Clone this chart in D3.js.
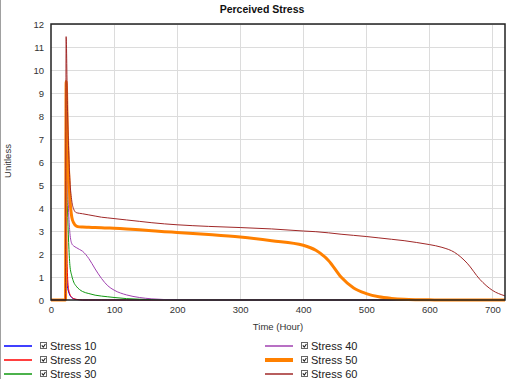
<!DOCTYPE html>
<html>
<head>
<meta charset="utf-8">
<script src="https://cdn.jsdelivr.net/npm/d3@7"></script>
<style>
  body { margin: 0; background: #fff; }
  svg { display: block; font-family: "Liberation Sans", Arial, sans-serif; }
</style>
</head>
<body>
<svg id="chart" width="512" height="379"></svg>
<script>
// time grid (hours) shared by all series
var times = [0, 23, 24, 26, 28, 30, 33, 36, 40, 45, 50, 60, 70, 80, 90, 100, 120, 140, 160, 180, 200,
  250, 300, 350, 400, 420, 440, 460, 480, 500, 520, 540, 560, 580, 600, 620, 640, 660, 680, 700, 720];

var stress10 = [0, 0, 1.8, 0.6, 0.35, 0.2, 0.1, 0.05, 0.02, 0.01, 0, 0, 0, 0, 0, 0, 0, 0, 0, 0, 0,
  0, 0, 0, 0, 0, 0, 0, 0, 0, 0, 0, 0, 0, 0, 0, 0, 0, 0, 0, 0];
var stress20 = [0, 0, 3.5, 1.2, 0.45, 0.25, 0.12, 0.06, 0.03, 0.01, 0, 0, 0, 0, 0, 0, 0, 0, 0, 0, 0,
  0, 0, 0, 0, 0, 0, 0, 0, 0, 0, 0, 0, 0, 0, 0, 0, 0, 0, 0, 0];
var stress30 = [0, 0, 5.8, 4.0, 2.5, 1.5, 1.05, 0.78, 0.6, 0.46, 0.37, 0.28, 0.21, 0.17, 0.14, 0.11, 0.06, 0.035, 0.02, 0.01, 0.005,
  0, 0, 0, 0, 0, 0, 0, 0, 0, 0, 0, 0, 0, 0, 0, 0, 0, 0, 0, 0];
var stress40 = [0, 0, 7.7, 5.5, 3.8, 2.9, 2.45, 2.35, 2.28, 2.2, 2.12, 1.8, 1.35, 0.94, 0.62, 0.43, 0.22, 0.11, 0.05, 0.02, 0.01,
  0, 0, 0, 0, 0, 0, 0, 0, 0, 0, 0, 0, 0, 0, 0, 0, 0, 0, 0, 0];
var stress50 = [0, 0, 9.5, 7.2, 5.5, 4.4, 3.6, 3.35, 3.22, 3.18, 3.17, 3.16, 3.15, 3.14, 3.13, 3.12, 3.09, 3.05, 3.01, 2.97, 2.94,
  2.85, 2.74, 2.58, 2.38, 2.16, 1.72, 1.0, 0.52, 0.28, 0.14, 0.07, 0.03, 0.015, 0.01, 0, 0, 0, 0, 0, 0];
var stress60 = [0, 0, 11.45, 8.5, 6.5, 5.2, 4.3, 3.95, 3.8, 3.77, 3.75, 3.7, 3.65, 3.6, 3.57, 3.54, 3.48, 3.42, 3.36, 3.31, 3.27,
  3.2, 3.15, 3.09, 3.0, 2.97, 2.92, 2.86, 2.81, 2.76, 2.7, 2.64, 2.58, 2.5, 2.41, 2.29, 2.07, 1.6, 0.9, 0.42, 0.18];

var seriesNames = ['Stress 10', 'Stress 20', 'Stress 30', 'Stress 40', 'Stress 50', 'Stress 60'];
var seriesValues = [stress10, stress20, stress30, stress40, stress50, stress60];
var seriesColors = ['#0000ff', '#ff0000', '#119911', '#a040b0', '#ff8000', '#a02828'];
var seriesWidths = [1, 1, 1, 1, 3, 1];

var xTicks = [0, 100, 200, 300, 400, 500, 600, 700];
var yTicks = d3.range(0, 13);

var svg = d3.select('#chart');
var pLeft = 51, pTop = 24, pRight = 505, pBottom = 300;

var x = d3.scaleLinear().domain([0, 720]).range([pLeft, pRight]);
var y = d3.scaleLinear().domain([0, 12]).range([pBottom, pTop]);

// outer frame line at left edge
svg.append('line').attr('x1', 0.5).attr('x2', 0.5).attr('y1', 0).attr('y2', 379)
  .attr('stroke', '#a0a0a0');

svg.append('text').attr('x', 262).attr('y', 13).attr('text-anchor', 'middle')
  .attr('font-size', 10.5).attr('font-weight', 'bold').attr('fill', '#111').text('Perceived Stress');

// grid
var grid = svg.append('g').attr('stroke', '#dcdcdc').attr('stroke-width', 1);
grid.selectAll('line.v').data(xTicks.slice(1)).enter().append('line').attr('class', 'v')
  .attr('x1', function(d) { return Math.round(x(d)) + 0.5; })
  .attr('x2', function(d) { return Math.round(x(d)) + 0.5; })
  .attr('y1', pTop).attr('y2', pBottom);
grid.selectAll('line.h').data(yTicks.slice(1)).enter().append('line').attr('class', 'h')
  .attr('y1', function(d) { return Math.round(y(d)) + 0.5; })
  .attr('y2', function(d) { return Math.round(y(d)) + 0.5; })
  .attr('x1', pLeft).attr('x2', pRight);

// axes (labels only)
var yAxis = svg.append('g').attr('transform', 'translate(' + (pLeft - 1) + ',0)')
  .call(d3.axisLeft(y).tickValues(yTicks).tickSize(0).tickPadding(6));
var xAxis = svg.append('g').attr('transform', 'translate(0,' + (pBottom + 1) + ')')
  .call(d3.axisBottom(x).tickValues(xTicks).tickSize(0).tickPadding(5));
[yAxis, xAxis].forEach(function(a) {
  a.select('.domain').remove();
  a.selectAll('text').attr('font-size', 9.5).attr('fill', '#333')
    .attr('font-family', '"Liberation Sans", Arial, sans-serif');
});

svg.append('text').attr('x', 278).attr('y', 330).attr('text-anchor', 'middle')
  .attr('font-size', 9.5).attr('fill', '#333').text('Time (Hour)');
svg.append('text').attr('transform', 'translate(11,' + 161 + ')rotate(-90)')
  .attr('text-anchor', 'middle').attr('font-size', 9.5).attr('fill', '#333').text('Unitless');

// lines
var line = d3.line()
  .x(function(d, i) { return x(times[i]); })
  .y(function(d) { return y(d); })
  .curve(d3.curveMonotoneX);
svg.append('g').selectAll('path').data(seriesValues).enter().append('path')
  .attr('d', line)
  .attr('fill', 'none')
  .attr('stroke', function(d, i) { return seriesColors[i]; })
  .attr('stroke-width', function(d, i) { return seriesWidths[i]; })
  .attr('stroke-linejoin', 'round');

// frame
svg.append('rect').attr('x', pLeft).attr('y', pTop).attr('width', pRight - pLeft).attr('height', pBottom - pTop)
  .attr('fill', 'none').attr('stroke', '#222').attr('stroke-width', 1.5);

// legend
var legend = svg.append('g');
var items = legend.selectAll('g').data(seriesNames).enter().append('g')
  .attr('transform', function(d, i) {
    var col = Math.floor(i / 3), row = i % 3;
    return 'translate(' + (col * 261 + 4) + ',' + (346 + row * 14) + ')';
  });
items.append('line').attr('x1', 0).attr('x2', 28).attr('y1', 0).attr('y2', 0)
  .attr('stroke', function(d, i) { return seriesColors[i]; })
  .attr('stroke-width', function(d, i) { return i === 4 ? 4 : 1.5; });
items.append('rect').attr('x', 36.5).attr('y', -3.5).attr('width', 6).attr('height', 6)
  .attr('fill', '#fff').attr('stroke', '#666');
items.append('path').attr('d', 'M37.8,-0.6 L39.3,1.2 L41.4,-2').attr('fill', 'none')
  .attr('stroke', '#222').attr('stroke-width', 1.1);
items.append('text').attr('x', 46).attr('y', 4).attr('font-size', 11).attr('fill', '#222')
  .text(function(d) { return d; });
</script>
</body>
</html>
